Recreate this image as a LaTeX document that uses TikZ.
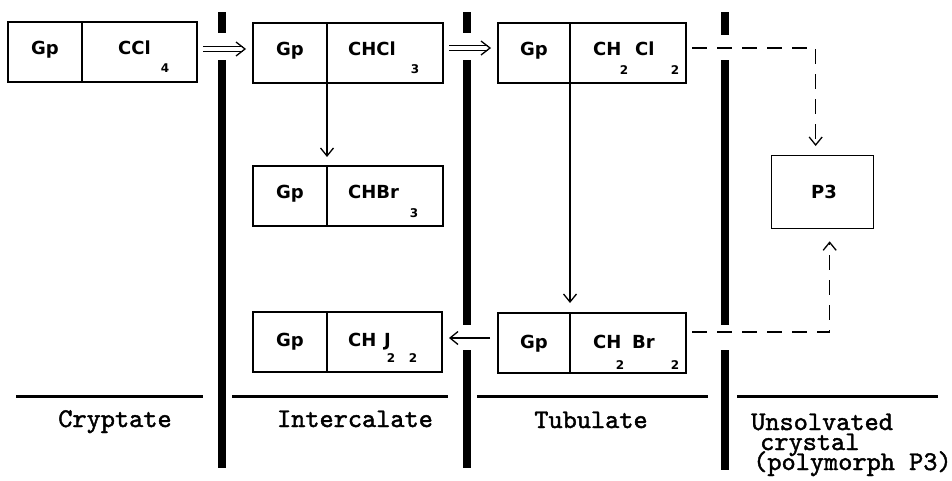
\documentclass[tikz,border=0pt]{standalone}
\usepackage{fontspec}
\newfontfamily\boxfont{DejaVu Sans}
\newfontfamily\labfont{lmmono10-regular}[Extension=.otf, FakeBold=1.6]
\usetikzlibrary{arrows.meta,calc}
\begin{document}
\begin{tikzpicture}[x=1pt,y=-1pt,
  cellbox/.style={draw, line width=1.3pt, inner sep=0pt, outer sep=0pt, minimum height=60pt, anchor=north west},
  formula/.style={inner sep=0pt, anchor=base west, font=\boxfont\bfseries\fontsize{18}{20}\selectfont},
  gptext/.style={inner sep=0pt, anchor=base, font=\boxfont\bfseries\fontsize{18}{20}\selectfont},
  subtext/.style={inner sep=0pt, anchor=base, font=\boxfont\bfseries\fontsize{12}{14}\selectfont},
  bar/.style={line width=8pt},
  rulebar/.style={line width=3pt},
  conn/.style={line width=1.3pt},
  tip/.style={-{Straight Barb[length=8pt,width=13pt]}},
  dblshaft/.style={double, double distance=3.8pt, line width=1.2pt},
  dashconn/.style={dash pattern=on 15pt off 10pt},
  lab/.style={inner sep=0pt, font=\labfont\fontsize{27}{30}\selectfont},
  tightlab/.style={lab, text height=13pt, text depth=2pt}
]
\useasboundingbox (0,0) rectangle (952,480);

% ---- boxes ----
\node[cellbox, minimum width=74pt] (b1g) at (8,22) {};
\node[cellbox, minimum width=115pt] (b1f) at (82,22) {};
\node[cellbox, minimum width=74pt] (b2g) at (253,23) {};
\node[cellbox, minimum width=116pt] (b2f) at (327,23) {};
\node[cellbox, minimum width=72pt] (b3g) at (498,23) {};
\node[cellbox, minimum width=116pt] (b3f) at (570,23) {};
\node[cellbox, minimum width=74pt] (b4g) at (253,166) {};
\node[cellbox, minimum width=116pt] (b4f) at (327,166) {};
\node[cellbox, minimum width=74pt] (b5g) at (253,312) {};
\node[cellbox, minimum width=115pt] (b5f) at (327,312) {};
\node[cellbox, minimum width=72pt] (b6g) at (498,313) {};
\node[cellbox, minimum width=116pt] (b6f) at (570,313) {};
\node[draw, line width=1.3pt, inner sep=0pt, minimum width=102pt, minimum height=73pt, anchor=north west] (p3) at (771,155) {};
\node[gptext] (p3t) at (824,198) {P3};

% ---- box texts ----
\node[gptext] (g1) at (45,54) {Gp};
\node[formula] (f1) at (118,54) {CCl};
\node[subtext] (s1) at (165,72) {4};

\node[gptext] (g2) at (290,55) {Gp};
\node[formula] (f2) at (348,55) {CHCl};
\node[subtext] (s2) at (415,73) {3};

\node[gptext] (g3) at (534,55) {Gp};
\node[formula] (f3a) at (593,55) {CH};
\node[formula] (f3b) at (635,55) {Cl};
\node[subtext] (s3a) at (624,74) {2};
\node[subtext] (s3b) at (675,74) {2};

\node[gptext] (g4) at (290,198.5) {Gp};
\node[formula] (f4) at (348,198.5) {CHBr};
\node[subtext] (s4) at (414,217.5) {3};

\node[gptext] (g5) at (290,346.5) {Gp};
\node[formula] (f5a) at (348,346.5) {CH};
\node[formula] (f5b) at (384,346.5) {J};
\node[subtext] (s5a) at (391,362.5) {2};
\node[subtext] (s5b) at (413,362.5) {2};

\node[gptext] (g6) at (534,348.5) {Gp};
\node[formula] (f6a) at (593,348.5) {CH};
\node[formula] (f6b) at (632,348.5) {Br};
\node[subtext] (s6a) at (620,369.5) {2};
\node[subtext] (s6b) at (675,369.5) {2};

% ---- thick vertical bars ----
\draw[bar] (222,12) -- (222,33);
\draw[bar] (222,60) -- (222,468);
\draw[bar] (467,12) -- (467,33);
\draw[bar] (467,60) -- (467,325);
\draw[bar] (467,350) -- (467,468);
\draw[bar] (725,12) -- (725,35);
\draw[bar] (725,60) -- (725,325);
\draw[bar] (725,350) -- (725,470);

% ---- horizontal rules ----
\draw[rulebar] (16,396) -- (203,396);
\draw[rulebar] (232,396) -- (448,396);
\draw[rulebar] (477,396) -- (708,396);
\draw[rulebar] (737,396) -- (938,396);

% ---- labels ----
\node[lab, anchor=base] (lc) at (115,427) {Cryptate};
\node[lab, anchor=base] (li) at (355,427) {Intercalate};
\node[lab, anchor=base] (lt) at (591,428) {Tubulate};
\node[tightlab, anchor=base west] (lu1) at (751,430) {Unsolvated};
\node[tightlab, anchor=base west] (lu2) at (760,450) {crystal};
\node[tightlab, anchor=base west] (lu3) at (753,470) {(polymorph P3)};

% ---- double arrows ----
\coordinate (a1s) at ([xshift=6pt,yshift=3pt]b1f.east);
\coordinate (a1e) at ([xshift=-8pt]b2g.west);
\coordinate (a1t) at (a1s -| a1e);
\draw[dblshaft] (a1s) -- ($(a1t)+(-2pt,0)$);
\draw[conn] ($(a1t)+(-9pt,7pt)$) -- (a1t) -- ($(a1t)+(-9pt,-7pt)$);

\coordinate (a2s) at ([xshift=6pt,yshift=5pt]b2f.east);
\coordinate (a2e) at ([xshift=-8pt]b3g.west);
\coordinate (a2t) at (a2s -| a2e);
\draw[dblshaft] (a2s) -- ($(a2t)+(-2pt,0)$);
\draw[conn] ($(a2t)+(-9pt,7pt)$) -- (a2t) -- ($(a2t)+(-9pt,-7pt)$);

% ---- single arrows ----
\draw[conn, tip] (b2g.south east) -- ($(b4g.north east)+(0,9pt)$);
\draw[conn, tip] (b3g.south east) -- ($(b6g.north east)+(0,10pt)$);
\coordinate (a3s) at ([xshift=-8pt,yshift=5pt]b6g.west);
\coordinate (a3e) at ([xshift=7pt]b5f.east);
\draw[conn, tip] (a3s) -- (a3s -| a3e);

% ---- dashed arrows to P3 ----
\draw[conn, dashconn, tip] ([xshift=6pt,yshift=5pt]b3f.east) -| ($(p3.north)+(-7pt,9pt)$);
\draw[conn, dashconn, tip] ([xshift=6pt,yshift=11pt]b6f.east) -| ($(p3.south)+(7pt,-12pt)$);
\end{tikzpicture}
\end{document}
